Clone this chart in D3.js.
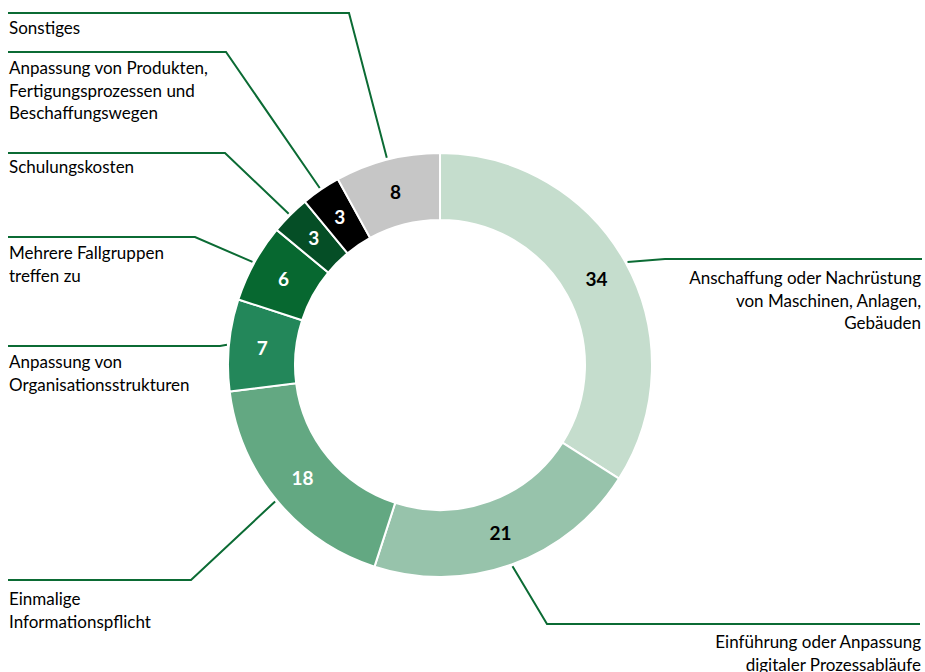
<!DOCTYPE html>
<html>
<head>
<meta charset="utf-8">
<script src="https://cdn.jsdelivr.net/npm/d3@7"></script>
<style>
  body { margin: 0; background: #fff; }
  svg text { font-family: Lato, "Open Sans", sans-serif; }
</style>
</head>
<body>
<svg id="chart" width="925" height="672"></svg>
<script>
// data, clockwise from 12 o'clock
const categories = [
  "Anschaffung oder Nachrüstung von Maschinen, Anlagen, Gebäuden",
  "Einführung oder Anpassung digitaler Prozessabläufe",
  "Einmalige Informationspflicht",
  "Anpassung von Organisationsstrukturen",
  "Mehrere Fallgruppen treffen zu",
  "Schulungskosten",
  "Anpassung von Produkten, Fertigungsprozessen und Beschaffungswegen",
  "Sonstiges"
];
const values = [34, 21, 18, 7, 6, 3, 3, 8];
const colors = ["#c5ddcd", "#97c3ab", "#63a882", "#23875a", "#076830", "#054e26", "#000000", "#c6c6c6"];
const labelColors = ["#000", "#000", "#fff", "#fff", "#fff", "#fff", "#fff", "#000"];

// label lines as shown in the chart
const labelLines = [
  ["Anschaffung oder Nachrüstung", "von Maschinen, Anlagen,", "Gebäuden"],
  ["Einführung oder Anpassung", "digitaler Prozessabläufe"],
  ["Einmalige", "Informationspflicht"],
  ["Anpassung von", "Organisationsstrukturen"],
  ["Mehrere Fallgruppen", "treffen zu"],
  ["Schulungskosten"],
  ["Anpassung von Produkten,", "Fertigungsprozessen und", "Beschaffungswegen"],
  ["Sonstiges"]
];

// leader layout: horizontal line at y, elbow at ex, runs to x2; text side
const leaders = [
  {y: 259, ex: 665, x2: 922, side: "right", ty: 284},
  {y: 624, ex: 547, x2: 920, side: "right", ty: 648},
  {y: 580, ex: 191, x2: 8, side: "left", ty: 605},
  {y: 346, ex: 220, x2: 8, side: "left", ty: 368},
  {y: 237, ex: 195, x2: 8, side: "left", ty: 259},
  {y: 153, ex: 225, x2: 8, side: "left", ty: 173},
  {y: 52, ex: 226, x2: 8, side: "left", ty: 74},
  {y: 13, ex: 349, x2: 8, side: "left", ty: 34}
];

const svg = d3.select("#chart");
const cx = 440, cy = 365;
const outerR = 212, innerR = 145;

const data = values.map((v, i) => ({value: v, i: i}));
const pie = d3.pie().value(d => d.value).sort(null);
const arcs = pie(data);

const arc = d3.arc().innerRadius(innerR).outerRadius(outerR);
const labelArc = d3.arc().innerRadius((innerR + outerR) / 2).outerRadius((innerR + outerR) / 2);
const anchorArc = d3.arc().innerRadius(outerR + 2).outerRadius(outerR + 2);

const g = svg.append("g").attr("transform", `translate(${cx},${cy})`);

g.selectAll("path.slice")
  .data(arcs)
  .enter()
  .append("path")
  .attr("class", "slice")
  .attr("d", arc)
  .attr("fill", d => colors[d.data.i])
  .attr("stroke", "#fff")
  .attr("stroke-width", 2);

g.selectAll("text.val")
  .data(arcs)
  .enter()
  .append("text")
  .attr("class", "val")
  .attr("x", d => labelArc.centroid(d)[0])
  .attr("y", d => labelArc.centroid(d)[1])
  .attr("dy", "0.35em")
  .attr("text-anchor", "middle")
  .style("font-size", "19px")
  .style("font-weight", "bold")
  .attr("fill", d => labelColors[d.data.i])
  .text(d => d.value);

// leader lines
svg.selectAll("polyline.leader")
  .data(arcs)
  .enter()
  .append("polyline")
  .attr("class", "leader")
  .attr("fill", "none")
  .attr("stroke", "#0b6b34")
  .attr("stroke-width", 2)
  .attr("points", d => {
    const p = anchorArc.centroid(d);
    const l = leaders[d.data.i];
    return [[cx + p[0], cy + p[1]], [l.ex, l.y], [l.x2, l.y]].map(q => q.join(",")).join(" ");
  });

// category labels
const lab = svg.selectAll("text.cat")
  .data(arcs)
  .enter()
  .append("text")
  .attr("class", "cat")
  .attr("text-anchor", d => leaders[d.data.i].side === "right" ? "end" : "start")
  .style("font-size", "17px")
  .attr("fill", "#000");

lab.selectAll("tspan")
  .data(d => labelLines[d.data.i].map(t => ({t: t, l: leaders[d.data.i]})))
  .enter()
  .append("tspan")
  .attr("x", d => d.l.side === "right" ? 921 : 9)
  .attr("y", (d, k) => d.l.ty + k * 22.5)
  .text(d => d.t);
</script>
</body>
</html>
